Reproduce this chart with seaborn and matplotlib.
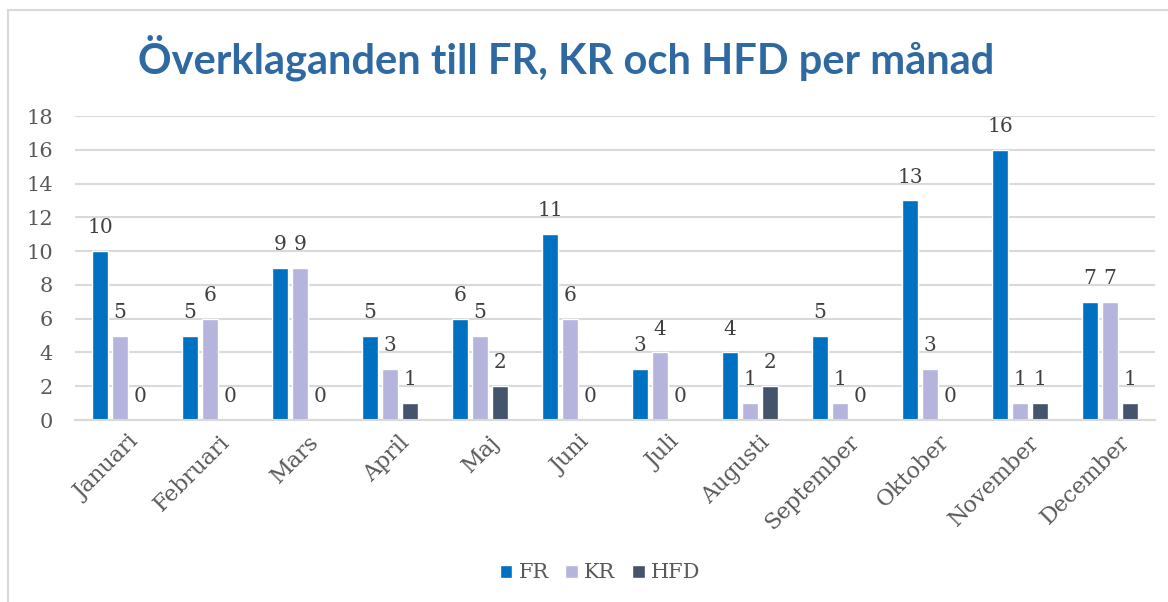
import matplotlib
matplotlib.use("Agg")
import matplotlib.pyplot as plt
import seaborn as sns
import pandas as pd
from matplotlib.patches import Rectangle
from matplotlib.transforms import ScaledTranslation

months = ["Januari", "Februari", "Mars", "April", "Maj", "Juni", "Juli",
          "Augusti", "September", "Oktober", "November", "December"]
series_names = ["FR", "KR", "HFD"]
fr = [10, 5, 9, 5, 6, 11, 3, 4, 5, 13, 16, 7]
kr = [5, 6, 9, 3, 5, 6, 4, 1, 1, 3, 1, 7]
hfd = [0, 0, 0, 1, 2, 0, 0, 2, 0, 0, 1, 1]
colors = ["#0070C0", "#B4B4DC", "#44546A"]
title = "Överklaganden till FR, KR och HFD per månad"

rows = []
for name, vals in zip(series_names, [fr, kr, hfd]):
    for m, v in zip(months, vals):
        rows.append({"Månad": m, "Antal": v, "Serie": name})
df = pd.DataFrame(rows)

sns.set_theme(style="white")
plt.rcParams["font.family"] = ["DejaVu Serif"]
text_gray = "#595959"

fig = plt.figure(figsize=(11.68, 6.02), dpi=100)
W, H = 1168, 602
ax = fig.add_axes([75 / W, 1 - 420 / H, (1155 - 75) / W, (420 - 116) / H])

sns.barplot(data=df, x="Månad", y="Antal", hue="Serie", order=months,
            hue_order=series_names, palette=colors, width=0.667, gap=0.2,
            saturation=1, ax=ax, legend=True)

ax.set_ylim(0, 18)
ax.set_yticks(range(0, 19, 2))
ax.yaxis.grid(True, color="#D9D9D9", linewidth=1.5)
ax.set_axisbelow(True)
for s in ["top", "right", "left"]:
    ax.spines[s].set_visible(False)
ax.spines["bottom"].set_color("#D9D9D9")
ax.spines["bottom"].set_linewidth(1.5)
ax.set_xlabel("")
ax.set_ylabel("")
ax.tick_params(axis="y", length=0, pad=16, labelsize=15, labelcolor=text_gray)
ax.tick_params(axis="x", length=0, pad=8, labelsize=16, labelcolor=text_gray)
shift = ScaledTranslation(6 / 72, 0, fig.dpi_scale_trans)
for lbl in ax.get_xticklabels():
    lbl.set_rotation(45)
    lbl.set_ha("right")
    lbl.set_rotation_mode("anchor")
    lbl.set_transform(lbl.get_transform() + shift)

for cont in ax.containers:
    ax.bar_label(cont, labels=[f"{int(b.get_height())}" for b in cont],
                 padding=10, fontsize=14.5, color="#404040")

sns.move_legend(ax, "center", bbox_to_anchor=(600 / W, 1 - 573 / H),
                bbox_transform=fig.transFigure, ncol=3, frameon=False,
                title=None, fontsize=15, handlelength=0.6, handleheight=0.6,
                handletextpad=0.3, columnspacing=0.8, labelcolor=text_gray)

fig.text(566 / W, 1 - 58 / H, title, ha="center", va="center",
         fontsize=30, fontweight="bold", color="#2F69A2", family="Lato")

fig.patches.append(Rectangle((8 / W, -0.01), 1.2, 1 - 10 / H + 0.01,
                             transform=fig.transFigure, fill=False,
                             edgecolor="#D9D9D9", linewidth=1.5))

fig.savefig("out.png", dpi=100, facecolor="white")
